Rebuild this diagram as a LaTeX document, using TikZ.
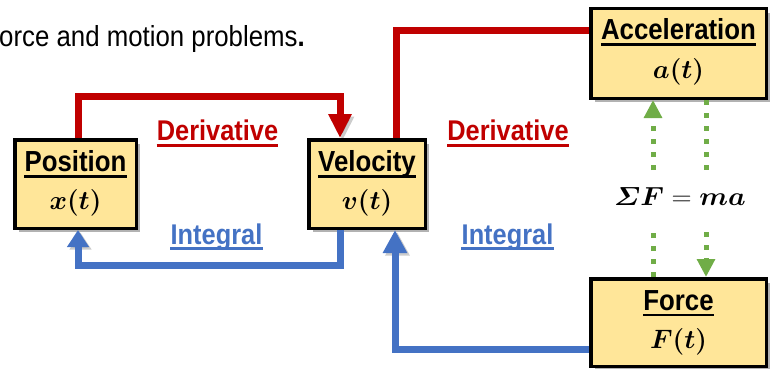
\documentclass[tikz,border=0pt]{standalone}
\usepackage{fix-cm}
\usepackage{amsmath,bm}
\usepackage{graphicx}
\usepackage[no-math]{fontspec}
\setmainfont{Liberation Sans}[FakeStretch=0.89]
\usetikzlibrary{arrows.meta,shadows}
\definecolor{dred}{HTML}{C00000}
\definecolor{mblue}{HTML}{4472C4}
\definecolor{mgreen}{HTML}{70AD47}
\definecolor{boxfill}{HTML}{FFE699}
\newcommand{\mscale}[1]{\scalebox{1.07}{#1}}
\begin{document}
\begin{tikzpicture}[x=1pt,y=-1pt,
  box/.style={draw=black, line width=3.5pt, fill=boxfill, inner sep=0,
    drop shadow={shadow xshift=4pt, shadow yshift=-4pt, opacity=0.3, fill=black}},
  ttl/.style={font=\fontsize{29}{32}\selectfont\bfseries, inner sep=0, anchor=base},
  mth/.style={font=\fontsize{24.88}{30}\selectfont, inner sep=0},
  uline/.style={line width=2.5pt, line cap=butt},
  lbl/.style={font=\fontsize{28.5}{32}\selectfont\bfseries, inner sep=0, anchor=base},
  lshadow/.style={preaction={draw=black, opacity=0.2, transform canvas={shift={(2.5,2.5)}}}},
  redln/.style={draw=dred, line width=7pt, lshadow},
  blueln/.style={draw=mblue, line width=7pt, lshadow},
  grnln/.style={draw=mgreen, line width=5pt, dash pattern=on 5pt off 8pt},
  gtip/.style={-{Triangle[width=17.5pt,length=18pt]}}
]
\useasboundingbox (0,0) rectangle (776,369);

% intro text
\node[anchor=base west, inner sep=0, font=\fontsize{29}{32}\selectfont] (intro) at (-1,47) {orce and motion problems\textbf{.}};

% boxes
\node[box, minimum width=121.5pt, minimum height=88.5pt] (pos) at (75.5,184) {};
\node[ttl] (posT) at (75.5,171.5) {Position};
\draw[uline] ([yshift=-5pt]posT.base west) -- ([yshift=-5pt]posT.base east);
\node[mth] (posM) at (75.5,202.5) {\mscale{$\bm{x(t)}$}};

\node[box, minimum width=116.5pt, minimum height=88.5pt] (vel) at (367,184) {};
\node[ttl] (velT) at (367,171.5) {Velocity};
\draw[uline] ([yshift=-5pt]velT.base west) -- ([yshift=-5pt]velT.base east);
\node[mth] (velM) at (367,202.5) {\mscale{$\bm{v(t)}$}};

\node[box, minimum width=175.5pt, minimum height=89.5pt] (acc) at (678.5,53.5) {};
\node[ttl] (accT) at (678.5,39.5) {Acceleration};
\draw[uline] ([yshift=-5pt]accT.base west) -- ([yshift=-5pt]accT.base east);
\node[mth] (accM) at (678.5,72) {\mscale{$\bm{a(t)}$}};

\node[box, minimum width=175.5pt, minimum height=87.5pt] (force) at (678.5,322.5) {};
\node[ttl] (forceT) at (678.5,310) {Force};
\draw[uline] ([yshift=-5pt]forceT.base west) -- ([yshift=-5pt]forceT.base east);
\node[mth] (forceM) at (678.5,342) {\mscale{$\bm{F(t)}$}};

% labels
\node[lbl, text=dred] (der1) at (217.5,140.5) {Derivative};
\draw[uline, draw=dred, line width=3pt] ([yshift=-4.5pt]der1.base west) -- ([yshift=-4.5pt]der1.base east);
\node[lbl, text=dred] (der2) at (508,140.5) {Derivative};
\draw[uline, draw=dred, line width=3pt] ([yshift=-4.5pt]der2.base west) -- ([yshift=-4.5pt]der2.base east);
\node[lbl, text=mblue] (int1) at (216.5,244) {Integral};
\draw[uline, draw=mblue, line width=3pt] ([yshift=-4pt]int1.base west) -- ([yshift=-4pt]int1.base east);
\node[lbl, text=mblue] (int2) at (507.5,244) {Integral};
\draw[uline, draw=mblue, line width=3pt] ([yshift=-4pt]int2.base west) -- ([yshift=-4pt]int2.base east);

% equation
\node[inner sep=0, font=\fontsize{24.88}{30}\selectfont] (eq) at (680,197) {\scalebox{1.12}[1.05]{$\bm{\varSigma F}=\bm{ma}$}};

% red derivative arrows
\draw[redln, -{Triangle[width=22pt,length=24pt]}] ([xshift=2.5pt]pos.north) |- (340,96) -- ([xshift=-27pt]vel.north);
\draw[redln] ([xshift=29pt]vel.north) |- ([yshift=22.5pt]acc.west);

% blue integral arrows
\draw[blueln, -{Triangle[width=21pt,length=17pt]}] ([xshift=-27pt]vel.south) |- (78,265) -- ([xshift=2.5pt]pos.south);
\draw[blueln, -{Triangle[width=23pt,length=23pt]}] ([yshift=-26.5pt]force.west) -| ([xshift=28pt]vel.south);

% green Newton arrows
\coordinate (gA) at (653,227);
\coordinate (gB) at (653,170);
\coordinate (gC) at (706,173);
\coordinate (gD) at (706,232);
\draw[grnln] ([xshift=-25.5pt]force.north) -- (gA);
\draw[grnln, gtip] (gB) -- ([xshift=-25.5pt]acc.south);
\draw[grnln] ([xshift=27.5pt]acc.south) -- (gC);
\draw[grnln, gtip] (gD) -- ([xshift=27.5pt]force.north);
\end{tikzpicture}
\end{document}
